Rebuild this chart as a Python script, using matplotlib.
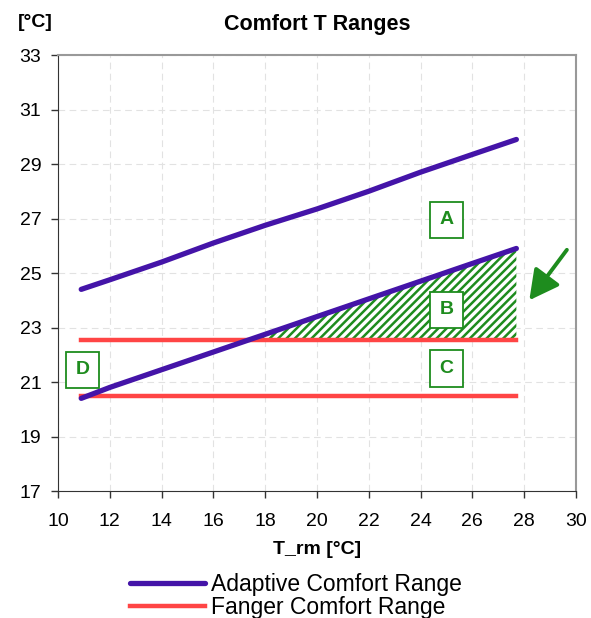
import matplotlib.pyplot as plt
from matplotlib.ticker import MultipleLocator

plt.rcParams["font.family"] = ["Liberation Sans", "DejaVu Sans"]
plt.rcParams["hatch.linewidth"] = 1.8

# running mean outdoor temperature
t_rm = [10.9, 12, 14, 16, 18, 20, 22, 24, 26, 27.7]
adaptive_upper = [24.4, 24.75, 25.4, 26.1, 26.75, 27.35, 28.0, 28.7, 29.35, 29.9]
adaptive_lower = [20.4, 20.8, 21.45, 22.1, 22.75, 23.4, 24.05, 24.7, 25.35, 25.9]
fanger_x = [10.9, 27.7]
fanger_upper = [22.55, 22.55]
fanger_lower = [20.5, 20.5]

y_ticks = [17, 19, 21, 23, 25, 27, 29, 31, 33]

box_labels = ["A", "B", "C", "D"]
box_x = [25.0, 25.0, 25.0, 10.95]
box_y = [26.95, 23.65, 21.5, 21.45]

purple = "#4414A8"
red = "#FF4545"
green = "#1E8C1E"

fig = plt.figure(figsize=(5.91, 6.18), dpi=100)
ax = fig.add_axes([0.098, 0.2055, 0.8765, 0.7055])

# hatched area B (adaptive lower above Fanger upper)
fl = fanger_upper[0]
ax.fill_between(t_rm, adaptive_lower, fl,
                where=[v >= fl for v in adaptive_lower], interpolate=True,
                facecolor="white", edgecolor=green, hatch="////", linewidth=0, zorder=2)

ax.plot(t_rm, adaptive_upper, color=purple, lw=3.8, solid_capstyle="round", zorder=4,
        label="Adaptive Comfort Range")
ax.plot(t_rm, adaptive_lower, color=purple, lw=3.8, solid_capstyle="round", zorder=4)
ax.plot(fanger_x, fanger_upper, color=red, lw=3.2, zorder=3, label="Fanger Comfort Range")
ax.plot(fanger_x, fanger_lower, color=red, lw=3.2, zorder=3)

for lab, x, y in zip(box_labels, box_x, box_y):
    ax.text(x, y, lab, color=green, fontsize=14, fontweight="bold", ha="center", va="center",
            zorder=6,
            bbox=dict(boxstyle="square,pad=0.5", facecolor="white", edgecolor=green, lw=1.3))

ax.annotate("", xy=(28.2, 24.0), xytext=(29.65, 25.85),
            arrowprops=dict(arrowstyle="-|>,head_length=1.8,head_width=0.95",
                            color=green, lw=2.8, shrinkA=0, shrinkB=0), zorder=6)

ax.set_xlim(10, 30)
ax.set_ylim(17, 33)
ax.xaxis.set_major_locator(MultipleLocator(2))
ax.set_yticks(y_ticks)
ax.grid(True, color="#E2E2E2", linestyle=(0, (6, 4)), lw=0.8, zorder=0)
ax.set_axisbelow(True)
ax.tick_params(labelsize=14, length=5, width=1, color="#333333", pad=7)
ax.tick_params(axis="x", pad=11)
for s in ["left", "bottom"]:
    ax.spines[s].set_color("#333333")
for s in ["top", "right"]:
    ax.spines[s].set_color("#999999")
    ax.spines[s].set_linewidth(1.5)

ax.set_title("Comfort T Ranges", fontsize=15.5, fontweight="bold", pad=18)
fig.text(0.06, 0.963, "[°C]", fontsize=14, fontweight="bold", ha="center", va="center")
ax.set_xlabel("T_rm [°C]", fontsize=14, fontweight="bold", labelpad=8)

fig.legend(loc="lower left", bbox_to_anchor=(0.2, -0.02), frameon=False, fontsize=16.5,
           handlelength=3.3, handletextpad=0.25, labelspacing=0.0, borderpad=0)

fig.savefig("out.png", dpi=100)
